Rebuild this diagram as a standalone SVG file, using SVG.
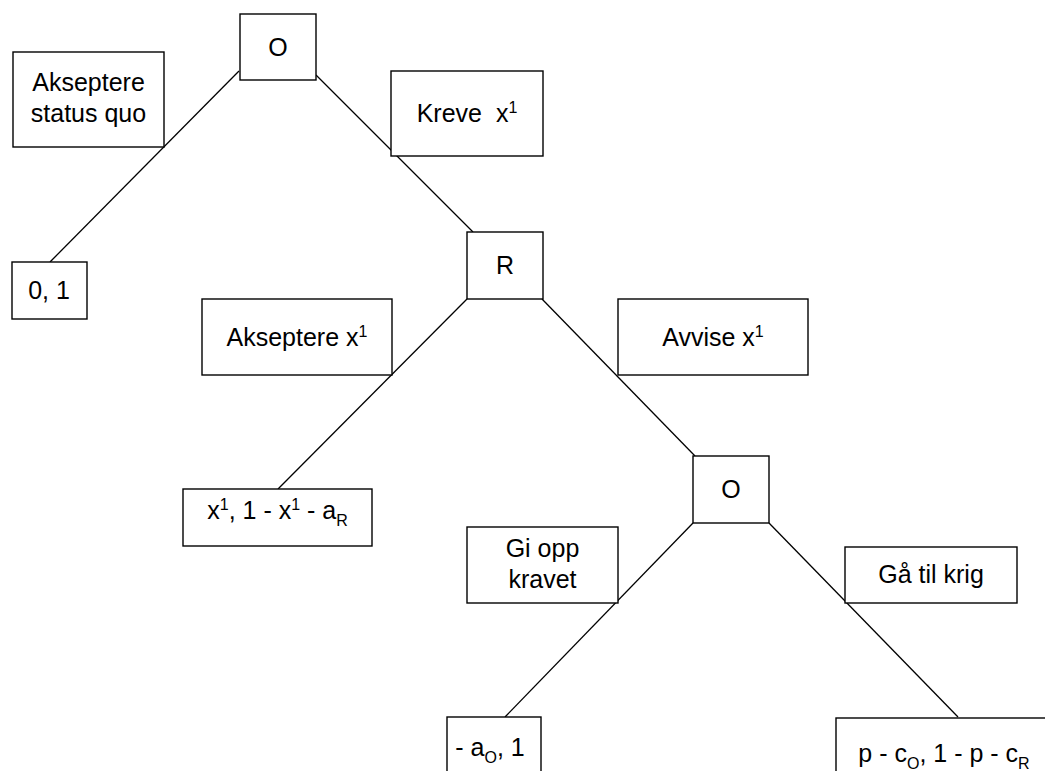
<svg xmlns="http://www.w3.org/2000/svg" width="1045" height="771" viewBox="0 0 1045 771">
  <style>
    .box { fill: #ffffff; stroke: #000000; stroke-width: 1.4; }
    .edge { stroke: #000000; stroke-width: 1.3; fill: none; }
    .lbl { font-family: "Liberation Sans", Arial, sans-serif; font-size: 25px; fill: #000000; text-anchor: middle; }
    .sm { font-size: 16px; }
  </style>
  <rect x="0" y="0" width="1045" height="771" fill="#ffffff"/>

  <!-- branches of the game tree -->
  <g id="connectors">
    <line class="edge" x1="239" y1="71" x2="50" y2="262"/>
    <line class="edge" x1="316" y1="75" x2="473" y2="232"/>
    <line class="edge" x1="467" y1="299" x2="278" y2="489"/>
    <line class="edge" x1="542" y1="299" x2="695" y2="456"/>
    <line class="edge" x1="693" y1="523" x2="505" y2="717"/>
    <line class="edge" x1="769" y1="523" x2="958" y2="717"/>
  </g>

  <!-- decision nodes -->
  <g id="node-o1">
    <rect class="box" x="240" y="14" width="76" height="66"/>
    <text class="lbl" x="278" y="56">O</text>
  </g>
  <g id="node-r">
    <rect class="box" x="467" y="232" width="76" height="67"/>
    <text class="lbl" x="505" y="274">R</text>
  </g>
  <g id="node-o2">
    <rect class="box" x="693" y="456" width="76" height="67"/>
    <text class="lbl" x="731" y="498">O</text>
  </g>

  <!-- action labels -->
  <g id="act-status-quo">
    <rect class="box" x="13" y="52" width="151" height="95"/>
    <text class="lbl" x="88.5" y="91">Akseptere</text>
    <text class="lbl" x="88.5" y="122">status quo</text>
  </g>
  <g id="act-kreve">
    <rect class="box" x="391" y="71" width="152" height="85"/>
    <text class="lbl" x="467" y="122" xml:space="preserve">Kreve  x<tspan class="sm" dy="-9">1</tspan></text>
  </g>
  <g id="act-akseptere">
    <rect class="box" x="202" y="299" width="190" height="76"/>
    <text class="lbl" x="297" y="346">Akseptere x<tspan class="sm" dy="-9">1</tspan></text>
  </g>
  <g id="act-avvise">
    <rect class="box" x="618" y="299" width="190" height="76"/>
    <text class="lbl" x="713" y="346">Avvise x<tspan class="sm" dy="-9">1</tspan></text>
  </g>
  <g id="act-gi-opp">
    <rect class="box" x="467" y="527" width="151" height="76"/>
    <text class="lbl" x="542.5" y="557">Gi opp</text>
    <text class="lbl" x="542.5" y="588">kravet</text>
  </g>
  <g id="act-krig">
    <rect class="box" x="845" y="547" width="172" height="56"/>
    <text class="lbl" x="931" y="583">Gå til krig</text>
  </g>

  <!-- payoffs -->
  <g id="pay-status-quo">
    <rect class="box" x="12" y="262" width="75" height="57"/>
    <text class="lbl" x="49" y="299">0, 1</text>
  </g>
  <g id="pay-akseptere">
    <rect class="box" x="183" y="489" width="189" height="57"/>
    <text class="lbl" x="277.5" y="519">x<tspan class="sm" dy="-9">1</tspan><tspan dy="9">, 1 - x</tspan><tspan class="sm" dy="-9">1</tspan><tspan dy="9"> - a</tspan><tspan class="sm" dy="7">R</tspan></text>
  </g>
  <g id="pay-gi-opp">
    <rect class="box" x="447" y="717" width="94" height="60"/>
    <text class="lbl" x="490" y="756">- a<tspan class="sm" dy="7">O</tspan><tspan dy="-7">, 1</tspan></text>
  </g>
  <g id="pay-krig">
    <rect class="box" x="836" y="718" width="220" height="60"/>
    <text class="lbl" x="944" y="762">p - c<tspan class="sm" dy="7">O</tspan><tspan dy="-7">, 1 - p - c</tspan><tspan class="sm" dy="7">R</tspan></text>
  </g>
</svg>
